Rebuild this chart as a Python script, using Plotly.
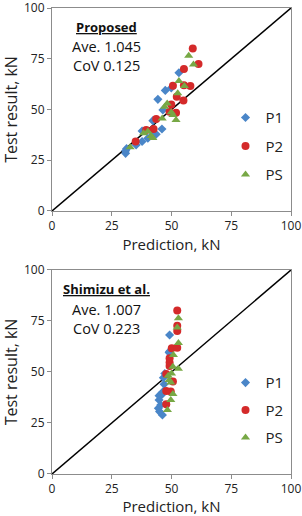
import plotly.graph_objects as go

# ---- Data: Proposed model (top) ----
top_p1_x = [30.8, 30.8, 31.2, 35.2, 37.7, 37.7, 40.1, 42.2, 43.6, 42.2, 46.0, 44.3, 46.4, 47.4, 49.9, 53.1]
top_p1_y = [28.4, 29.7, 30.7, 32.5, 34.2, 39.4, 35.8, 37.8, 37.8, 44.5, 40.4, 55.0, 49.8, 59.4, 60.6, 68.1]
top_p2_x = [35.0, 39.4, 42.5, 43.6, 49.2, 49.9, 50.6, 51.9, 52.2, 55.0, 55.2, 55.2, 57.9, 58.9, 61.3]
top_p2_y = [34.2, 39.9, 40.4, 45.3, 48.9, 52.5, 61.7, 48.4, 56.3, 54.4, 61.9, 70.0, 61.6, 80.1, 72.4]
top_ps_x = [32.7, 38.3, 40.1, 41.5, 42.2, 46.1, 47.1, 48.2, 49.9, 50.6, 51.9, 52.6, 53.1, 55.4, 57.2, 59.2]
top_ps_y = [31.4, 38.3, 39.1, 36.9, 36.0, 45.6, 51.4, 53.0, 48.6, 47.3, 44.8, 58.0, 64.0, 61.6, 76.5, 72.2]

# ---- Data: Shimizu et al. (bottom) ----
bot_p1_x = [46.2, 45.0, 44.5, 45.5, 44.8, 44.8, 45.8, 46.5, 46.9, 46.6, 47.2, 49.0, 49.2, 49.2]
bot_p1_y = [28.9, 30.6, 32.2, 33.8, 36.3, 38.4, 38.7, 40.4, 44.0, 47.2, 49.3, 59.5, 60.1, 68.1]
bot_p2_x = [47.8, 47.8, 49.7, 50.6, 47.8, 49.2, 49.2, 49.2, 50.1, 52.4, 52.4, 52.4, 52.4]
bot_p2_y = [34.2, 40.7, 40.4, 45.3, 49.0, 52.9, 54.7, 56.7, 61.6, 61.9, 70.1, 72.7, 80.1]
bot_ps_x = [48.3, 49.7, 50.6, 49.0, 48.6, 50.0, 49.7, 50.6, 52.9, 50.8, 52.9, 52.4, 52.9]
bot_ps_y = [31.4, 36.3, 39.2, 46.1, 48.2, 49.3, 44.9, 52.6, 51.6, 58.3, 64.2, 71.8, 76.3]

series_names = ["P1", "P2", "PS"]
line_xy = [0, 100]
ticks = [0, 25, 50, 75, 100]

top_title = "Proposed"
top_stats = ["Ave. 1.045", "CoV 0.125"]
bot_title = "Shimizu et al."
bot_stats = ["Ave. 1.007", "CoV 0.223"]

colors = ["#4A86C8", "#D42A2A", "#77A845"]
symbols = ["diamond", "circle", "triangle-up"]
sizes = [7, 8, 8]

FONT = "Open Sans, Liberation Sans, sans-serif"

fig = go.Figure()

top_data = [(top_p1_x, top_p1_y), (top_p2_x, top_p2_y), (top_ps_x, top_ps_y)]
bot_data = [(bot_p1_x, bot_p1_y), (bot_p2_x, bot_p2_y), (bot_ps_x, bot_ps_y)]

for axis_suffix, data, leg in [("", top_data, "legend"), ("2", bot_data, "legend2")]:
    fig.add_trace(go.Scatter(x=line_xy, y=line_xy, mode="lines",
                             line=dict(color="black", width=1.5),
                             showlegend=False, hoverinfo="skip",
                             xaxis="x" + axis_suffix, yaxis="y" + axis_suffix))
    for i, (xs, ys) in enumerate(data):
        fig.add_trace(go.Scatter(x=xs, y=ys, mode="markers", name=series_names[i],
                                 marker=dict(color=colors[i], symbol=symbols[i], size=sizes[i],
                                             line=dict(width=0)),
                                 legend=leg, legendgroup=leg + series_names[i],
                                 xaxis="x" + axis_suffix, yaxis="y" + axis_suffix))

axis_common = dict(range=[0, 100], tickvals=ticks, showgrid=False, zeroline=False,
                   showline=True, linecolor="#8c8c8c", linewidth=1, mirror=True,
                   ticks="outside", ticklen=4, tickcolor="#8c8c8c",
                   tickfont=dict(size=12, color="#222", family=FONT),
                   ticklabeloverflow="allow",
                   automargin=False, fixedrange=True)

xt = dict(text="Prediction, kN", font=dict(size=15), standoff=2)
yt = dict(text="Test result, kN", font=dict(size=16), standoff=3)

fig.update_layout(
    width=302, height=516,
    margin=dict(l=52, r=11, t=8, b=42, autoexpand=False),
    paper_bgcolor="white", plot_bgcolor="white",
    font=dict(family=FONT, color="#222"),
    xaxis=dict(domain=[0, 1], anchor="y", title=xt, **axis_common),
    yaxis=dict(domain=[0.5644, 1], anchor="x", title=yt, **axis_common),
    xaxis2=dict(domain=[0, 1], anchor="y2", title=xt, **axis_common),
    yaxis2=dict(domain=[0, 0.4378], anchor="x2", title=yt, **axis_common),
    legend=dict(x=0.726, y=0.800, xanchor="left", yanchor="top",
                font=dict(size=15), tracegroupgap=6, bgcolor="rgba(0,0,0,0)",
                itemwidth=30),
    legend2=dict(x=0.726, y=0.231, xanchor="left", yanchor="top",
                 font=dict(size=15), tracegroupgap=5, bgcolor="rgba(0,0,0,0)",
                 itemwidth=30),
    showlegend=True,
)

def add_block(xref, yref, title, stats, ys):
    fig.add_annotation(x=22.8, y=ys[0], xref=xref, yref=yref, showarrow=False,
                       text="<b><u>" + title + "</u></b>", font=dict(size=13, color="#111"))
    for s, yv in zip(stats, ys[1:]):
        fig.add_annotation(x=22.8, y=yv, xref=xref, yref=yref, showarrow=False,
                           text=s, font=dict(size=14.5, color="#111"))

add_block("x", "y", top_title, top_stats, [90.5, 81.2, 71.8])
add_block("x2", "y2", bot_title, bot_stats, [90.5, 80.8, 71.4])

fig.write_html("out.html")
